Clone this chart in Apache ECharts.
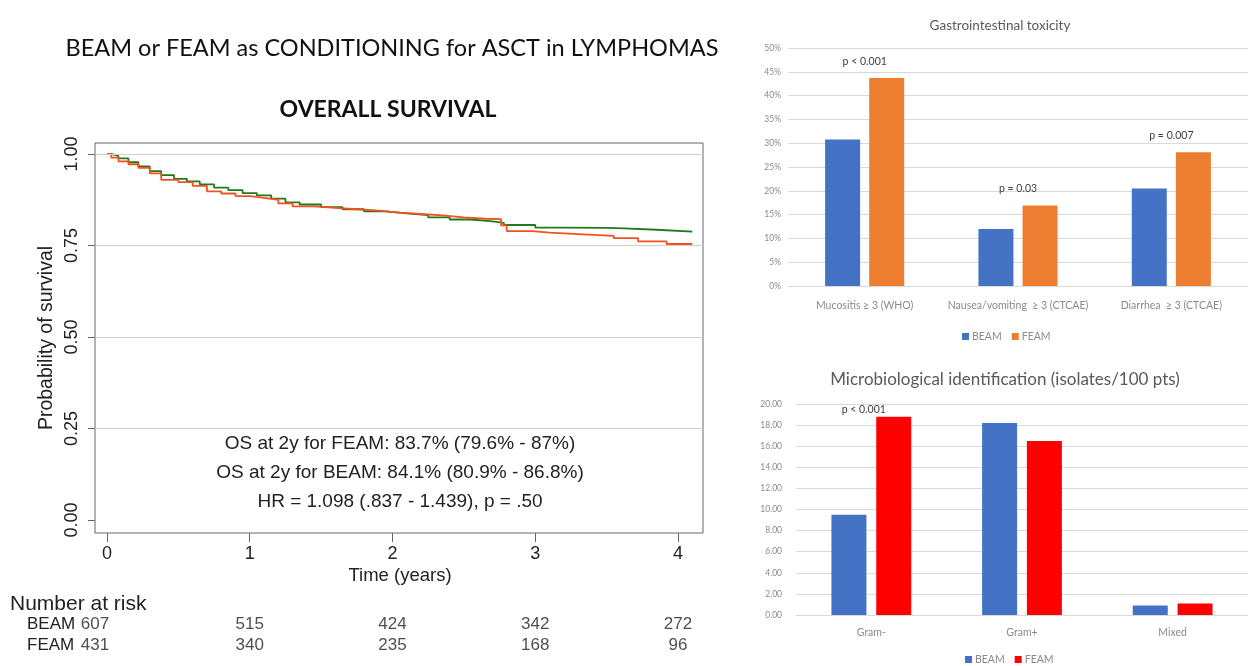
<!DOCTYPE html>
<html>
<head>
<meta charset="utf-8">
<script src="https://cdn.jsdelivr.net/npm/echarts@6/dist/echarts.min.js"></script>
<style>
html, body { margin: 0; padding: 0; background: #fff; }
#main { width: 1248px; height: 666px; }
</style>
</head>
<body>
<div id="main"></div>
<script>
// overall survival curves, [time in years, survival]
let beamOS = [[0, 1], [0.03, 0.995], [0.08, 0.988], [0.15, 0.978], [0.22, 0.966], [0.3, 0.953], [0.38, 0.942],
  [0.47, 0.932], [0.56, 0.925], [0.65, 0.917], [0.75, 0.908], [0.85, 0.901], [0.95, 0.893], [1.05, 0.887],
  [1.15, 0.878], [1.25, 0.868], [1.35, 0.862], [1.5, 0.855], [1.65, 0.849], [1.8, 0.843], [1.95, 0.838],
  [2.1, 0.833], [2.25, 0.827], [2.4, 0.821], [2.55, 0.816], [2.7, 0.812], [2.78, 0.806], [3.0, 0.799],
  [3.2, 0.798], [3.5, 0.797], [3.62, 0.793], [3.85, 0.788], [4.1, 0.788]]
let feamOS = [[0, 1], [0.03, 0.99], [0.08, 0.98], [0.15, 0.972], [0.22, 0.962], [0.3, 0.947], [0.38, 0.929],
  [0.5, 0.923], [0.6, 0.913], [0.7, 0.898], [0.8, 0.892], [0.9, 0.885], [1.0, 0.88], [1.1, 0.875],
  [1.2, 0.865], [1.3, 0.857], [1.45, 0.853], [1.6, 0.849], [1.75, 0.845], [1.9, 0.84], [2.05, 0.836],
  [2.2, 0.832], [2.35, 0.827], [2.5, 0.823], [2.65, 0.822], [2.76, 0.805], [2.8, 0.789], [2.98, 0.785],
  [3.1, 0.781], [3.3, 0.776], [3.55, 0.77], [3.72, 0.761], [3.92, 0.754], [4.1, 0.754]]
let kmTicksX = [0, 1, 2, 3, 4]
let kmTicksY = [0, 0.25, 0.5, 0.75, 1]
let kmGridLines = [0.25, 0.5, 0.75, 1]
let kmNotes = ['OS at 2y for FEAM: 83.7% (79.6% - 87%)', 'OS at 2y for BEAM: 84.1% (80.9% - 86.8%)', 'HR = 1.098 (.837 - 1.439), p = .50']

// number at risk
let riskTimes = [0, 1, 2, 3, 4]
let riskGroups = ['BEAM', 'FEAM']
let riskBEAM = [607, 515, 424, 342, 272]
let riskFEAM = [431, 340, 235, 168, 96]

// gastrointestinal toxicity
let giCategories = ['Mucositis ≥ 3 (WHO)', 'Nausea/vomiting  ≥ 3 (CTCAE)', 'Diarrhea  ≥ 3 (CTCAE)']
let giBEAM = [0.308, 0.12, 0.205]
let giFEAM = [0.437, 0.169, 0.281]
let giPValues = ['p < 0.001', 'p = 0.03', 'p = 0.007']

// microbiological identification
let microCategories = ['Gram-', 'Gram+', 'Mixed']
let microBEAM = [9.5, 18.2, 0.9]
let microFEAM = [18.8, 16.5, 1.1]
let microPValues = ['p < 0.001', '', '']

let kmFont = 'Liberation Sans'
let msFont = 'Lato'
let smallGray = '#8a8a8a'

function riskData(name, values) {
  return riskTimes.map((t, i) => ({
    value: [t, name, values[i]],
    label: i === 0 ? { offset: [-12, 0] } : {}
  }))
}

function text(x, y, str, font, fill, align) {
  return {
    type: 'text', x: x, y: y,
    style: { text: str, font: font, fill: fill, textAlign: align || 'center', textVerticalAlign: 'middle' }
  }
}

let option = {
  animation: false,
  backgroundColor: '#fff',
  graphic: [
    text(392, 48, 'BEAM or FEAM as CONDITIONING for ASCT in LYMPHOMAS', '23.5px Lato', '#111'),
    text(388, 110, 'OVERALL SURVIVAL', 'bold 23px Lato', '#111'),
    text(400, 444, kmNotes[0], '19px ' + kmFont, '#222'),
    text(400, 473, kmNotes[1], '19px ' + kmFont, '#222'),
    text(400, 502, kmNotes[2], '19px ' + kmFont, '#222'),
    text(400, 576, 'Time (years)', '18.5px ' + kmFont, '#222'),
    text(10, 604, 'Number at risk', '21px ' + kmFont, '#222', 'left'),
    text(1000, 26, 'Gastrointestinal toxicity', '13.5px Lato', '#595959'),
    text(1005, 380, 'Microbiological identification (isolates/100 pts)', '17px Lato', '#595959')
  ],
  grid: [
    { left: 95, top: 143, width: 608, height: 390, show: true, borderColor: '#666', borderWidth: 1 },
    { left: 10, top: 614, width: 693, height: 42 },
    { left: 788, top: 48, width: 468, height: 238 },
    { left: 796, top: 404, width: 459, height: 211 }
  ],
  xAxis: [
    {
      gridIndex: 0, type: 'value', min: -0.084, max: 4.175,
      axisLine: { show: false, onZero: false },
      axisTick: { show: true, customValues: kmTicksX, length: 9, lineStyle: { color: '#666' } },
      axisLabel: { customValues: kmTicksX, margin: 12, fontSize: 18, fontFamily: kmFont, color: '#222' },
      splitLine: { show: false }
    },
    {
      gridIndex: 1, type: 'value', min: -0.6795, max: 4.175, show: false
    },
    {
      gridIndex: 2, type: 'category', data: giCategories,
      axisLine: { lineStyle: { color: '#d9d9d9' } },
      axisTick: { show: false },
      axisLabel: { fontSize: 10.5, fontFamily: msFont, color: smallGray, margin: 14, interval: 0 }
    },
    {
      gridIndex: 3, type: 'category', data: microCategories,
      axisLine: { lineStyle: { color: '#d9d9d9' } },
      axisTick: { show: false },
      axisLabel: { fontSize: 10.5, fontFamily: msFont, color: smallGray, margin: 12, interval: 0 }
    }
  ],
  yAxis: [
    {
      gridIndex: 0, type: 'value', min: -0.0355, max: 1.030,
      axisLine: { show: false, onZero: false },
      axisTick: { show: true, customValues: kmTicksY, length: 7, lineStyle: { color: '#666' } },
      axisLabel: {
        customValues: kmTicksY, rotate: 90, margin: 14, fontSize: 18, fontFamily: kmFont, color: '#222',
        formatter: v => v.toFixed(2)
      },
      splitLine: { show: false },
      name: 'Probability of survival', nameLocation: 'middle', nameGap: 38,
      nameTextStyle: { fontSize: 19.5, fontFamily: kmFont, color: '#222' }
    },
    {
      gridIndex: 1, type: 'category', data: riskGroups, inverse: true,
      axisLine: { show: false, onZero: false }, axisTick: { show: false }, splitLine: { show: false },
      axisLabel: { inside: true, interval: 0, margin: 17, fontSize: 17, fontFamily: kmFont, color: '#222' }
    },
    {
      gridIndex: 2, type: 'value', min: 0, max: 0.5, interval: 0.05,
      axisLine: { show: false }, axisTick: { show: false },
      axisLabel: { fontSize: 8.5, fontFamily: msFont, color: smallGray, margin: 7, formatter: v => Math.round(v * 100) + '%' },
      splitLine: { lineStyle: { color: '#d9d9d9' } }
    },
    {
      gridIndex: 3, type: 'value', min: 0, max: 20, interval: 2,
      axisLine: { show: false }, axisTick: { show: false },
      axisLabel: { fontSize: 8.5, fontFamily: msFont, color: smallGray, margin: 14, formatter: v => v.toFixed(2) },
      splitLine: { lineStyle: { color: '#d9d9d9' } }
    }
  ],
  legend: [
    {
      data: [{ name: 'BEAM', itemStyle: { color: '#4472C4' } }, { name: 'FEAM', itemStyle: { color: '#ED7D31' } }],
      left: 957, top: 326, itemWidth: 7, itemHeight: 7, itemGap: 10, icon: 'rect',
      textStyle: { fontSize: 10.5, fontFamily: msFont, color: smallGray, padding: [0, 0, 0, -2] }
    },
    {
      data: [{ name: 'BEAM', itemStyle: { color: '#4472C4' } }, { name: 'FEAM', itemStyle: { color: '#FF0000' } }],
      left: 960, top: 649, itemWidth: 7, itemHeight: 7, itemGap: 10, icon: 'rect',
      textStyle: { fontSize: 10.5, fontFamily: msFont, color: smallGray, padding: [0, 0, 0, -2] }
    }
  ],
  series: [
    {
      name: 'BEAM OS', type: 'line', xAxisIndex: 0, yAxisIndex: 0, step: 'end', data: beamOS,
      showSymbol: false, lineStyle: { color: '#1f7a1f', width: 1.8 }, z: 3,
      markLine: {
        silent: true, symbol: 'none', label: { show: false },
        lineStyle: { color: '#d0d0d0', type: 'solid', width: 1 },
        data: kmGridLines.map(v => ({ yAxis: v }))
      }
    },
    {
      name: 'FEAM OS', type: 'line', xAxisIndex: 0, yAxisIndex: 0, step: 'end', data: feamOS,
      showSymbol: false, lineStyle: { color: '#f4511e', width: 1.8 }, z: 4
    },
    {
      name: 'BEAM risk', type: 'scatter', xAxisIndex: 1, yAxisIndex: 1, data: riskData('BEAM', riskBEAM),
      symbolSize: 1, itemStyle: { color: 'transparent' },
      label: { show: true, position: 'inside', fontSize: 17, fontFamily: kmFont, color: '#222', formatter: p => p.value[2] }
    },
    {
      name: 'FEAM risk', type: 'scatter', xAxisIndex: 1, yAxisIndex: 1, data: riskData('FEAM', riskFEAM),
      symbolSize: 1, itemStyle: { color: 'transparent' },
      label: { show: true, position: 'inside', fontSize: 17, fontFamily: kmFont, color: '#222', formatter: p => p.value[2] }
    },
    {
      name: 'BEAM', type: 'bar', xAxisIndex: 2, yAxisIndex: 2, data: giBEAM,
      barWidth: 35, barGap: '26%', itemStyle: { color: '#4472C4' }
    },
    {
      name: 'FEAM', type: 'bar', xAxisIndex: 2, yAxisIndex: 2, data: giFEAM,
      barWidth: 35, barGap: '26%', itemStyle: { color: '#ED7D31' },
      label: {
        show: true, position: 'top', distance: 11, offset: [-22, 0],
        fontSize: 10.5, fontFamily: msFont, color: '#404040', formatter: p => giPValues[p.dataIndex]
      }
    },
    {
      name: 'BEAM', type: 'bar', xAxisIndex: 3, yAxisIndex: 3, data: microBEAM,
      barWidth: 35, barGap: '28%', itemStyle: { color: '#4472C4' }
    },
    {
      name: 'FEAM', type: 'bar', xAxisIndex: 3, yAxisIndex: 3, data: microFEAM,
      barWidth: 35, barGap: '28%', itemStyle: { color: '#FF0000' },
      label: {
        show: true, position: 'top', distance: 2, offset: [-30, 0],
        fontSize: 10.5, fontFamily: msFont, color: '#404040', formatter: p => microPValues[p.dataIndex]
      }
    }
  ]
}

let chart = echarts.init(document.getElementById('main'))
chart.setOption(option)
</script>
</body>
</html>
